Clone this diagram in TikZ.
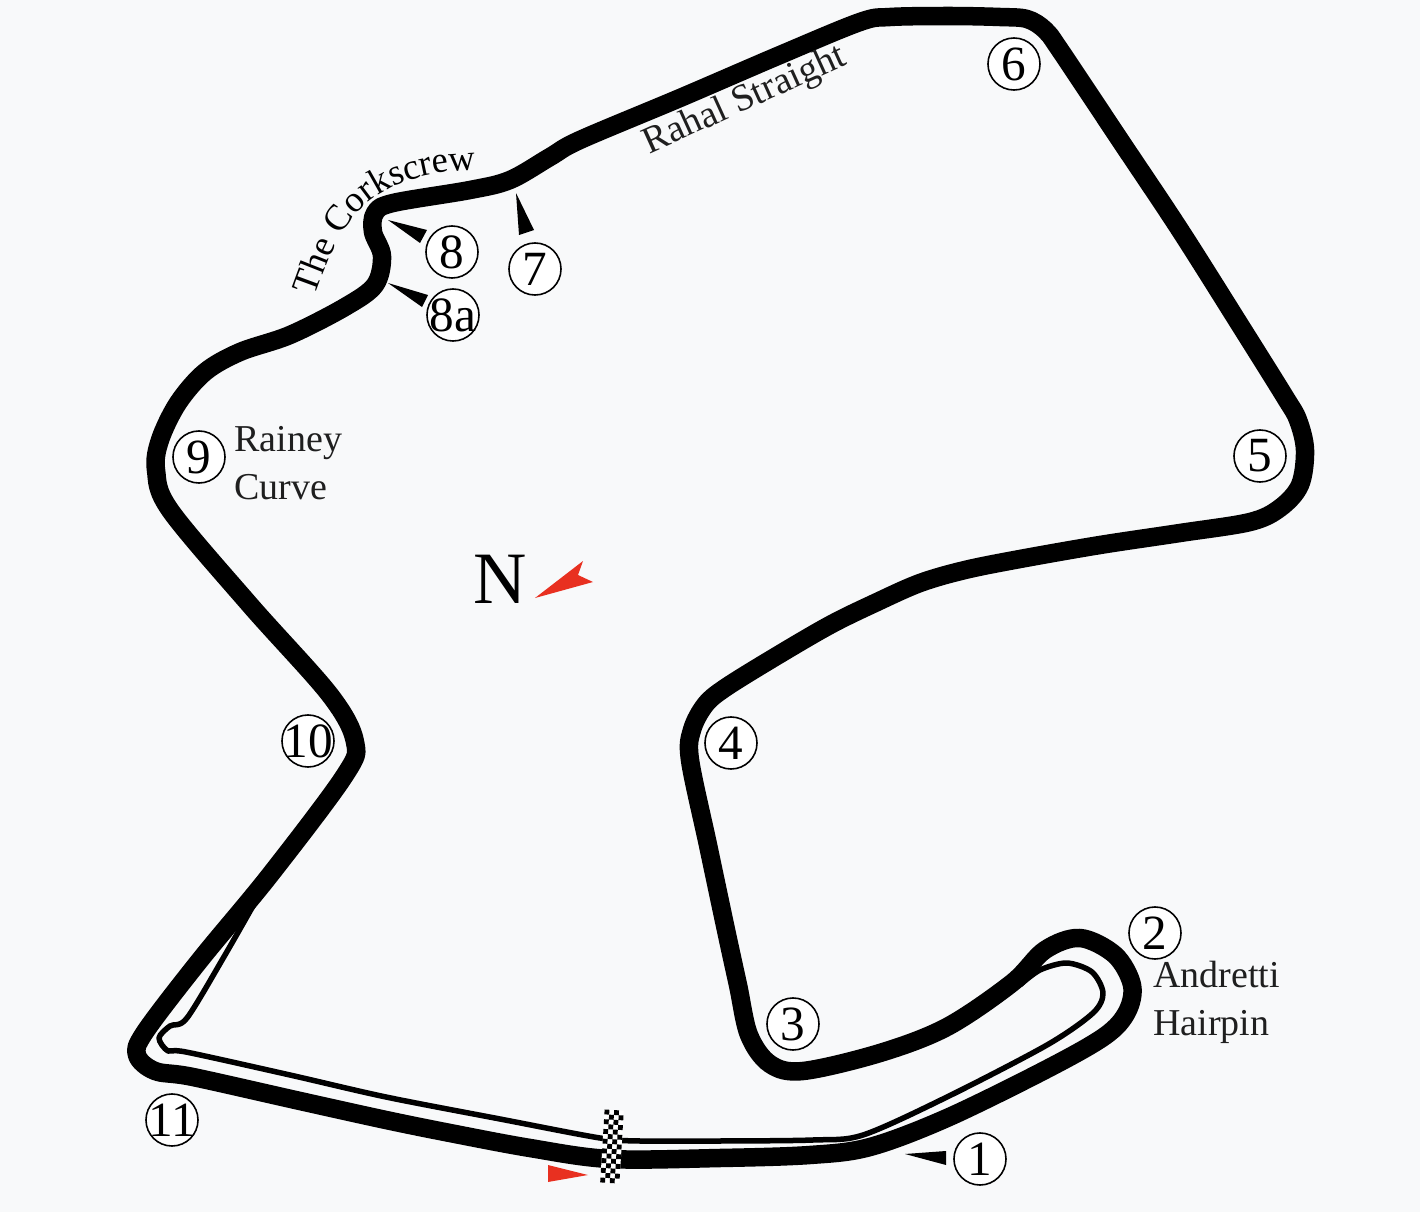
\documentclass[tikz,border=0pt]{standalone}
\usepackage{fontspec}
\setmainfont{Liberation Serif}
\usepackage{xcolor}
\usetikzlibrary{decorations.text}
\definecolor{paper}{RGB}{248,249,250}
\definecolor{flagred}{RGB}{232,48,32}

\begin{document}
\begin{tikzpicture}[x=0.01cm,y=-0.01cm,
    track/.style={black,line width=0.185cm,line join=round},
    pitlane/.style={black,line width=0.055cm,line join=round},
    marker/.style={fill=black},
    turn/.style={circle,draw=black,line width=0.45pt,fill=white,minimum size=0.52cm,inner sep=-4pt,font=\fontsize{14}{14}\selectfont},
    label/.style={font=\fontsize{10.8}{13.6}\selectfont,align=left,text=black!88}]
    \fill[paper] (0,0) rectangle (1420,1212);

    % Circuit
    \draw[track] plot[smooth cycle,tension=0.55] coordinates {
      (610,1159) (720,1158) (810,1155) (870,1147) (947,1118) (1047,1069)
      (1105,1036) (1127,1012) (1132,985) (1115,955) (1080,938) (1045,950) (1012,983)
      (947,1027) (880,1053) (803,1071) (770,1064) (749,1035) (738,985)
      (726,930) (708,845) (690,760) (692,730) (705,705) (725,688) (775,657)
      (830,625) (875,603) (920,583) (965,570) (1020,559) (1100,545) (1180,533)
      (1250,522) (1280,508) (1300,485) (1305,450) (1298,420) (1285,397) (1240,325)
      (1180,230) (1120,140) (1060,50) (1045,30) (1027,19) (1000,17) (950,16)
      (890,17) (860,22) (780,55) (680,98) (580,140) (550,157) (510,180)
      (470,190) (393,203) (375,213) (373,232) (382,256) (375,285)
      (345,307) (290,335) (240,352) (205,372) (178,403) (160,440) (156,470) (170,510)
      (250,605) (330,695) (355,742) (345,775) (270,875) (200,960) (145,1032)
      (137,1055) (155,1071) (193,1077) (300,1101) (386,1120) (450,1133) (530,1148)
    };

    % Pit lane
    \draw[pitlane] plot[smooth,tension=0.5] coordinates {
      (1020,985) (1040,970) (1067,963) (1092,972) (1103,993) (1093,1013)
      (1047,1045) (947,1097) (863,1135) (813,1140) (720,1141) (640,1141) (600,1138)
      (500,1119) (386,1097) (290,1075) (186,1052) (168,1051) (159,1038) (170,1026) (187,1018)
      (225,955) (262,890)
    };

    % Turn markers
    \fill[marker] (905,1154) -- (946,1151) -- (946,1165) -- cycle;
    \fill[marker] (516,193) -- (534,230) -- (519,235) -- cycle;
    \fill[marker] (388,220) -- (427,230) -- (420,243) -- cycle;
    \fill[marker] (388,283) -- (428,295) -- (422,307) -- cycle;

    % Start line
    \fill[flagred] (548,1165) -- (588,1175) -- (548,1182) -- cycle;
    \begin{scope}[shift={(612,1146.5)},rotate=-3.5]
      \fill[white] (-9.6,-36.5) rectangle (9.6,36.5);
      \foreach \c in {0,...,3}
        \foreach \r in {0,...,14} {
          \pgfmathparse{int(mod(\c+\r,2))}
          \ifnum\pgfmathresult=0
            \fill[black] (-9.6+\c*4.8,-36.5+\r*4.87) rectangle +(4.8,4.87);
          \fi
        }
    \end{scope}

    % Turns
    \node[turn] (turn1) at (980,1159) {1};
    \node[turn] (turn2) at (1155,933) {2};
    \node[turn] (turn3) at (793,1024) {3};
    \node[turn] (turn4) at (731,743) {4};
    \node[turn] (turn5) at (1260,456) {5};
    \node[turn] (turn6) at (1014,64) {6};
    \node[turn] (turn7) at (535,269) {7};
    \node[turn] (turn8) at (452,252) {8};
    \node[turn] (turn8a) at (453,315) {8a};
    \node[turn] (turn9) at (199,457) {9};
    \node[turn] (turn10) at (308,741) {10};
    \node[turn] (turn11) at (172,1120) {11};

    % Corner names
    \node[label,anchor=west] (rainey) at (222,463) {Rainey\\Curve};
    \node[label,anchor=west] (andretti) at (1141,1002) {Andretti\\Hairpin};
    \node[label,rotate=24.4] (rahal) at (745,101) {Rahal Straight};
    \path[decorate,decoration={text along path,text align=center,
        text={|\fontsize{10.4}{13}\selectfont|The Corkscrew}}]
      (314,298) .. controls (336,240) and (352,172) .. (478,170);

    % North
    \node[font=\fontsize{21}{21}\selectfont] (north) at (500,579) {N};
    \fill[flagred] (535,598) -- (583,561) -- (578,575) -- (593,582) -- cycle;
\end{tikzpicture}
\end{document}
